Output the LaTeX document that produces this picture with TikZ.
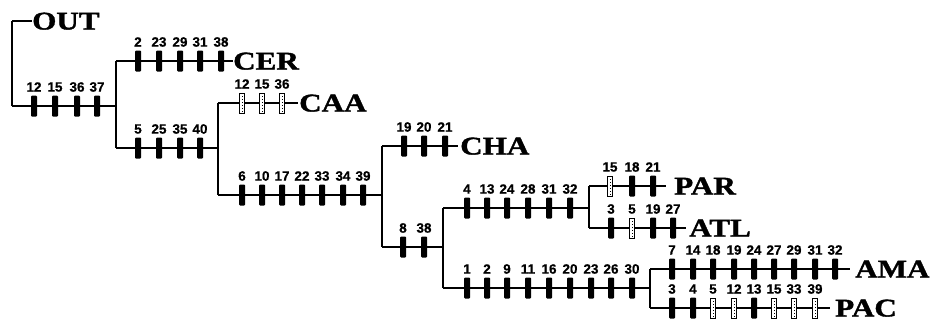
\documentclass[tikz,border=0pt]{standalone}
\usepackage{fontspec}
\setmainfont{Liberation Serif}
\newfontfamily\bigf[FakeStretch=1.22,FakeBold=1.5]{Liberation Serif Bold}
\newfontfamily\labf[FakeBold=0.6]{Liberation Sans Bold}
\tikzset{
  hline/.style={line width=2.8pt},
  vline/.style={line width=2.2pt},
  stick/.style={rectangle, fill=black, rounded corners=1pt, minimum width=6pt, minimum height=21pt, inner sep=0pt},
  htick/.style={rectangle, draw=black, fill=white, line width=1pt, minimum width=5pt, minimum height=20pt, inner sep=0pt,
     path picture={\draw[dotted, line width=1pt] (path picture bounding box.north) -- (path picture bounding box.south);}},
  lab/.style={font=\labf\fontsize{13.5}{14}\selectfont, inner sep=0pt},
  taxon/.style={font=\bigf\fontsize{25.5}{26}\selectfont, inner sep=0pt, anchor=base west}
}
\begin{document}
\begin{tikzpicture}[x=1pt,y=-1pt]
\useasboundingbox (0,0) rectangle (932,324);
% junction coordinates
\coordinate (outtop) at (12,21);
\coordinate (outend) at (32,21);
\coordinate (r0) at (12,106);
\coordinate (j1) at (116,106);
\coordinate (j1a) at (116,61);
\coordinate (j1b) at (116,148);
\coordinate (cerend) at (233,61);
\coordinate (j2) at (218,148);
\coordinate (j2a) at (218,103);
\coordinate (j2b) at (218,195);
\coordinate (caaend) at (298,103);
\coordinate (j3) at (382,195);
\coordinate (j3a) at (382,146);
\coordinate (j3b) at (382,247);
\coordinate (chaend) at (458,146);
\coordinate (j4) at (443,247);
\coordinate (j4a) at (443,208);
\coordinate (j4b) at (443,288);
\coordinate (j5) at (589,208);
\coordinate (j5a) at (589,186);
\coordinate (j5b) at (589,228);
\coordinate (parend) at (666,186);
\coordinate (atlend) at (686,228);
\coordinate (j6) at (650,288);
\coordinate (j6a) at (650,269);
\coordinate (j6b) at (650,308);
\coordinate (amaend) at (850,269);
\coordinate (pacend) at (830,308);

% lines
\draw[vline] (r0) -- (outtop);
\draw[hline] (outtop) -- (outend);
\draw[hline] (r0) -- (j1);
\draw[vline] (j1a) -- (j1b);
\draw[hline] (j1a) -- (cerend);
\draw[hline] (j1b) -- (j2);
\draw[vline] (j2a) -- (j2b);
\draw[hline] (j2a) -- (caaend);
\draw[hline] (j2b) -- (j3);
\draw[vline] (j3a) -- (j3b);
\draw[hline] (j3a) -- (chaend);
\draw[hline] (j3b) -- (j4);
\draw[vline] (j4a) -- (j4b);
\draw[hline] (j4a) -- (j5);
\draw[vline] (j5a) -- (j5b);
\draw[hline] (j5a) -- (parend);
\draw[hline] (j5b) -- (atlend);
\draw[hline] (j4b) -- (j6);
\draw[vline] (j6a) -- (j6b);
\draw[hline] (j6a) -- (amaend);
\draw[hline] (j6b) -- (pacend);

% ticks and labels
\foreach \x/\l in {34/12,55/15,77/36,97/37}{
  \node[stick] (root-\l) at (\x,106) {}; \node[lab] (rootl-\l) at (\x,87) {\l};}
\foreach \x/\l in {138/2,159/23,180/29,200/31,221/38}{
  \node[stick] (cer-\l) at (\x,61) {}; \node[lab] (cerl-\l) at (\x,42) {\l};}
\foreach \x/\l in {138/5,159/25,180/35,200/40}{
  \node[stick] (b1-\l) at (\x,148) {}; \node[lab] (b1l-\l) at (\x,129) {\l};}
\foreach \x/\l in {242/12,262/15,282/36}{
  \node[htick] (caa-\l) at (\x,103) {}; \node[lab] (caal-\l) at (\x,84) {\l};}
\foreach \x/\l in {242/6,262/10,282/17,302/22,322/33,343/34,363/39}{
  \node[stick] (b2-\l) at (\x,195) {}; \node[lab] (b2l-\l) at (\x,176) {\l};}
\foreach \x/\l in {404/19,424/20,445/21}{
  \node[stick] (cha-\l) at (\x,146) {}; \node[lab] (chal-\l) at (\x,127) {\l};}
\foreach \x/\l in {403/8,424/38}{
  \node[stick] (b3-\l) at (\x,247) {}; \node[lab] (b3l-\l) at (\x,228) {\l};}
\foreach \x/\l in {467/4,487/13,507/24,528/28,549/31,570/32}{
  \node[stick] (b4-\l) at (\x,208) {}; \node[lab] (b4l-\l) at (\x,189) {\l};}
\node[htick] (par-15) at (610,186) {}; \node[lab] (parl-15) at (610,167) {15};
\foreach \x/\l in {632/18,653/21}{
  \node[stick] (par-\l) at (\x,186) {}; \node[lab] (parl-\l) at (\x,167) {\l};}
\node[stick] (atl-3) at (611,228) {}; \node[lab] (atll-3) at (611,209) {3};
\node[htick] (atl-5) at (632,228) {}; \node[lab] (atll-5) at (632,209) {5};
\foreach \x/\l in {653/19,673/27}{
  \node[stick] (atl-\l) at (\x,228) {}; \node[lab] (atll-\l) at (\x,209) {\l};}
\foreach \x/\l in {467/1,487/2,507/9,528/11,549/16,570/20,591/23,611/26,632/30}{
  \node[stick] (b5-\l) at (\x,288) {}; \node[lab] (b5l-\l) at (\x,269) {\l};}
\foreach \x/\l in {672/7,693/14,713/18,734/19,754/24,774/27,794/29,815/31,835/32}{
  \node[stick] (ama-\l) at (\x,269) {}; \node[lab] (amal-\l) at (\x,250) {\l};}
\foreach \x/\l in {672/3,693/4,754/13}{
  \node[stick] (pac-\l) at (\x,308) {}; \node[lab] (pacl-\l) at (\x,289) {\l};}
\foreach \x/\l in {713/5,734/12,774/15,794/33,815/39}{
  \node[htick] (pac-\l) at (\x,308) {}; \node[lab] (pacl-\l) at (\x,289) {\l};}

% taxon names
\node[taxon] (OUT) at ([yshift=-8.5pt]outend) {OUT};
\node[taxon] (CER) at ([yshift=-8.5pt]cerend) {CER};
\node[taxon] (CAA) at ([shift={(1pt,-8.5pt)}]caaend) {CAA};
\node[taxon] (CHA) at ([shift={(2pt,-8.5pt)}]chaend) {CHA};
\node[taxon] (PAR) at ([shift={(8pt,-8.5pt)}]parend) {PAR};
\node[taxon] (ATL) at ([shift={(3pt,-8.5pt)}]atlend) {ATL};
\node[taxon] (AMA) at ([shift={(5pt,-8.5pt)}]amaend) {AMA};
\node[taxon] (PAC) at ([shift={(5pt,-8.5pt)}]pacend) {PAC};
\end{tikzpicture}
\end{document}
